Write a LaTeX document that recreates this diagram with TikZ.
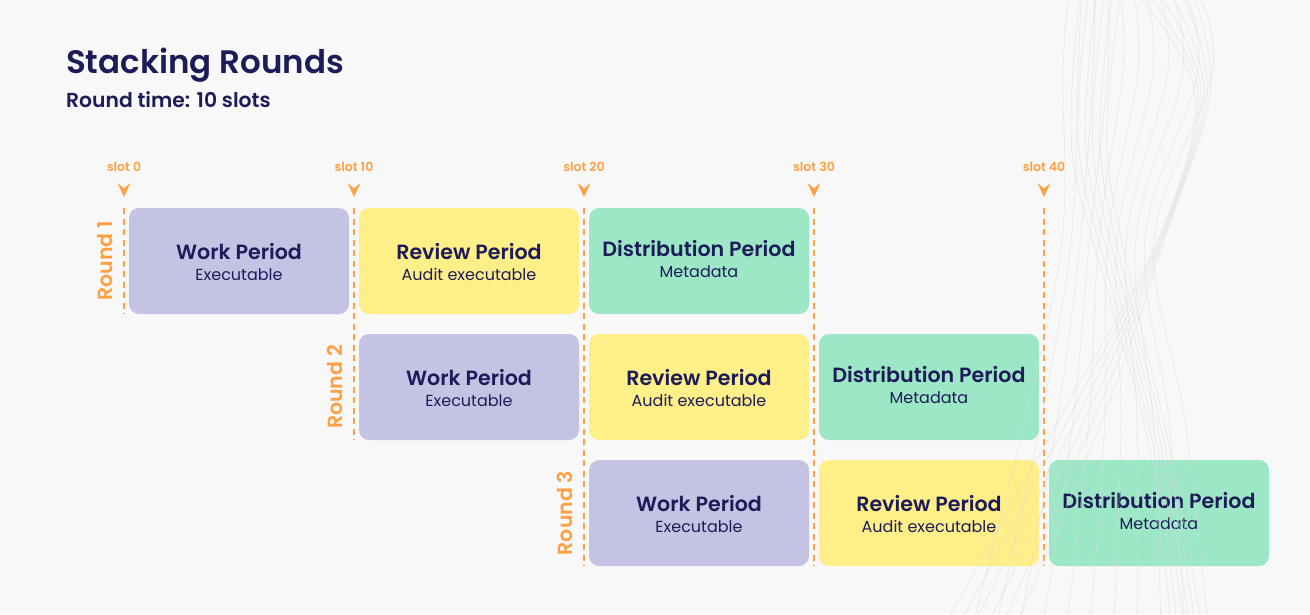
\documentclass[tikz,border=0pt]{standalone}
\usepackage{fontspec}
\setmainfont{Poppins}[BoldFont={Poppins SemiBold}]
\definecolor{bg}{HTML}{F8F8F8}
\definecolor{ink}{HTML}{1D1B58}
\definecolor{accent}{HTML}{FFA043}
\definecolor{workc}{HTML}{C4C3E3}
\definecolor{reviewc}{HTML}{FFEF89}
\definecolor{distc}{HTML}{9BE7C6}
\definecolor{wave}{HTML}{DCDCDC}
\tikzset{
  period/.style={rounded corners=10pt, minimum width=220pt, minimum height=106pt,
    inner sep=0pt, align=center, text=ink, font=\fontsize{20.6}{21}\selectfont,
    text height=38pt, text depth=0pt},
  work/.style={period, fill=workc},
  review/.style={period, fill=reviewc},
  dist/.style={period, fill=distc, text height=32pt},
  slotlabel/.style={text=accent, font=\fontsize{12.5}{14}\selectfont\bfseries, inner sep=0pt},
  roundlabel/.style={text=accent, rotate=90, font=\fontsize{20.5}{22}\selectfont\bfseries, inner sep=0pt},
  slotline/.style={accent, line width=2pt, dash pattern=on 6pt off 4.5pt},
  wavy/.style={wave, line width=0.7pt, opacity=0.55},
}
\newcommand{\sub}[1]{\\[0pt]{\fontsize{16}{17}\selectfont\mdseries #1}}
\begin{document}
\begin{tikzpicture}[x=1pt, y=-1pt]
\useasboundingbox (0,0) rectangle (1310,614);
\fill[bg] (0,0) rectangle (1310,614);

% title block
\node[anchor=base west, text=ink, inner sep=0pt, font=\fontsize{32.5}{36}\selectfont\bfseries] (title) at (66,73) {Stacking Rounds};
\node[anchor=base west, text=ink, inner sep=0pt, font=\fontsize{20.3}{22}\selectfont\bfseries] (subtitle) at (66,107) {Round time: 10 slots};

% slot markers: label, arrowhead and dashed guide
\foreach \n/\xx/\yend in {0/124/314, 10/354/440, 20/584/566, 30/814/566, 40/1044/566} {
  \node[slotlabel] (s\n) at (\xx,167) {slot \n};
  \fill[accent] (\xx-6.5,183) -- (\xx,188.5) -- (\xx+6.5,183) -- (\xx,197) -- cycle;
  \coordinate (top\n) at (\xx,208);
  \coordinate (bot\n) at (\xx,\yend);
  \draw[slotline] (top\n) -- (bot\n);
}

% round labels
\node[roundlabel] (r1) at (105,261) {Round 1};
\node[roundlabel] (r2) at (335,387) {Round 2};
\node[roundlabel] (r3) at (565,513) {Round 3};

% round 1
\node[work]   (w1) at (239,261) {\textbf{Work Period}\sub{Executable}};
\node[review] (v1) at (469,261) {\textbf{Review Period}\sub{Audit executable}};
\node[dist]   (d1) at (699,261) {\textbf{Distribution Period}\sub{Metadata}};
% round 2
\node[work]   (w2) at (469,387) {\textbf{Work Period}\sub{Executable}};
\node[review] (v2) at (699,387) {\textbf{Review Period}\sub{Audit executable}};
\node[dist]   (d2) at (929,387) {\textbf{Distribution Period}\sub{Metadata}};
% round 3
\node[work]   (w3) at (699,513) {\textbf{Work Period}\sub{Executable}};
\node[review] (v3) at (929,513) {\textbf{Review Period}\sub{Audit executable}};
\node[dist]   (d3) at (1159,513) {\textbf{Distribution Period}\sub{Metadata}};

% decorative braid of thin lines on the right
\foreach \t in {0,0.1,...,1.01} {
  \draw[wavy] plot[smooth, tension=0.6] coordinates
    {({1068+132*\t},-2) ({1063+149*\t},75) ({1062+92*\t},240) ({1025+160*\t},420) ({975+232*\t},616)};
}
\foreach \s in {0,0.2,...,1.01} {
  \draw[wavy] plot[smooth, tension=0.6] coordinates
    {({1140+55*\s},-2) ({1195+15*\s},95) ({1160+6*\s},235) ({1070+40*\s},400) ({950+70*\s},616)};
}
\foreach \s in {0,0.2,...,1.01} {
  \draw[wavy] plot[smooth, tension=0.6] coordinates
    {({1080+40*\s},-2) ({1072+35*\s},150) ({1110+25*\s},300) ({1150+20*\s},450) ({1170+30*\s},616)};
}
\end{tikzpicture}
\end{document}
